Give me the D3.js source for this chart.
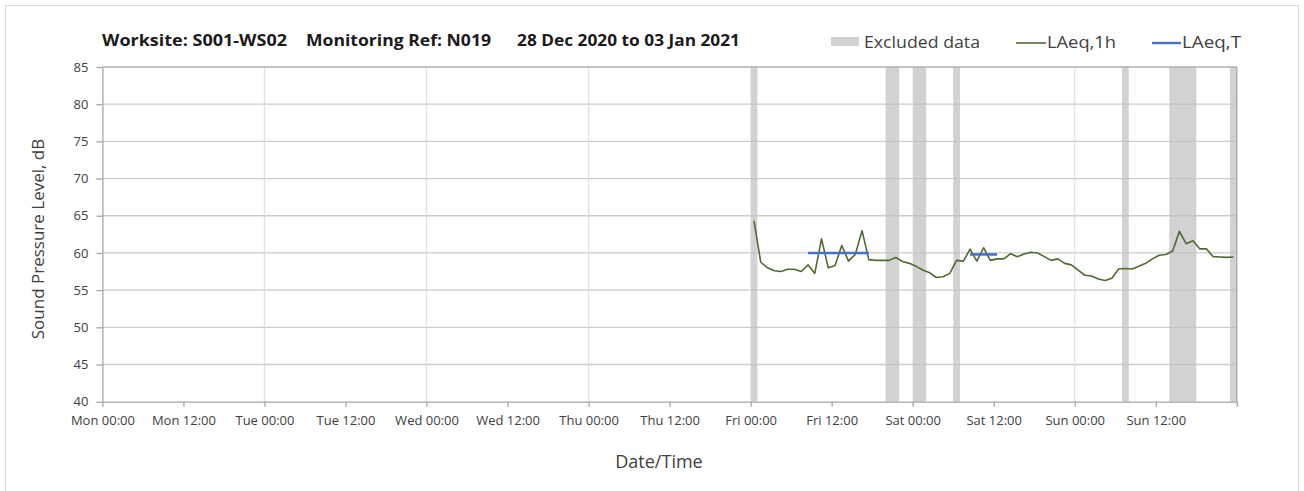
<!DOCTYPE html>
<html>
<head>
<meta charset="utf-8">
<script src="https://cdn.jsdelivr.net/npm/d3@7"></script>
<style>
  html, body { margin: 0; padding: 0; background: #fff; }
  svg { display: block; }
  text { font-family: "Open Sans", "Noto Sans", sans-serif; }
</style>
</head>
<body>
<svg id="chart" width="1304" height="491"></svg>
<script>
// ---------- DATA ----------
const titleParts = ["Worksite: S001-WS02", "Monitoring Ref: N019", "28 Dec 2020 to 03 Jan 2021"];
const xTickLabels = ["Mon 00:00", "Mon 12:00", "Tue 00:00", "Tue 12:00", "Wed 00:00", "Wed 12:00",
  "Thu 00:00", "Thu 12:00", "Fri 00:00", "Fri 12:00", "Sat 00:00", "Sat 12:00", "Sun 00:00", "Sun 12:00", ""];
const xTickHours = [0, 12, 24, 36, 48, 60, 72, 84, 96, 108, 120, 132, 144, 156, 168];
const yTicks = [40, 45, 50, 55, 60, 65, 70, 75, 80, 85];
const dayGridHours = [24, 48, 72, 144];

// Excluded data periods (hours since Mon 00:00)
const excludedStart = [96, 116, 120, 126, 151, 158, 167];
const excludedEnd   = [97, 118, 122, 127, 152, 162, 168];

// LAeq,1h hourly values, first hour starting Fri 00:00 (hour 96)
const laeq1hStartHour = 96;
const laeq1hValues = [
  64.3, 58.75, 58.0, 57.6, 57.5, 57.8, 57.8, 57.5, 58.4, 57.25, 61.9, 58.0,
  58.3, 61.0, 58.9, 59.8, 63.0, 59.1, 59.0, 59.0, 59.0, 59.4, 58.85, 58.6,
  58.2, 57.7, 57.35, 56.7, 56.8, 57.25, 59.0, 58.9, 60.5, 58.9, 60.7, 59.0,
  59.2, 59.2, 59.9, 59.5, 59.85, 60.1, 60.0, 59.5, 59.0, 59.2, 58.6, 58.4,
  57.7, 57.0, 56.9, 56.5, 56.3, 56.6, 57.85, 57.9, 57.85, 58.2, 58.6, 59.2,
  59.7, 59.8, 60.25, 62.9, 61.25, 61.65, 60.55, 60.55, 59.5, 59.45, 59.4, 59.45
];

// LAeq,T periods (start / end hour, value)
const laeqTStart = [104, 128];
const laeqTEnd   = [114, 133];
const laeqTValue = [60.0, 59.8];

// ---------- CHART ----------
const svg = d3.select("#chart");
const plot = { left: 102.4, right: 1236.8, top: 67, bottom: 401.7 };

const x = d3.scaleLinear().domain([0, 168]).range([plot.left, plot.right]);
const y = d3.scaleLinear().domain([40, 85]).range([plot.bottom, plot.top]);

// outer frame
svg.append("rect").attr("x", 5.5).attr("y", 5.5).attr("width", 1293).attr("height", 492)
  .attr("fill", "#fff").attr("stroke", "#d9d9d9").attr("stroke-width", 1);

// horizontal gridlines (behind)
svg.append("g").selectAll("line").data(yTicks.filter(d => d !== 40 && d !== 85)).join("line")
  .attr("x1", plot.left).attr("x2", plot.right)
  .attr("y1", d => y(d)).attr("y2", d => y(d))
  .attr("stroke", "#d9d9d9").attr("stroke-width", 1.3);

// vertical day gridlines
svg.append("g").selectAll("line").data(dayGridHours).join("line")
  .attr("x1", d => x(d)).attr("x2", d => x(d))
  .attr("y1", plot.top).attr("y2", plot.bottom)
  .attr("stroke", "#e3e3e3").attr("stroke-width", 1.3);

// excluded bands
const bands = excludedStart.map((s, i) => ({ s, e: excludedEnd[i] }));
svg.append("g").selectAll("rect").data(bands).join("rect")
  .attr("x", d => x(d.s)).attr("width", d => x(d.e) - x(d.s))
  .attr("y", plot.top).attr("height", plot.bottom - plot.top)
  .attr("fill", "#d2d2d2");

// gridlines overlay inside bands (slightly darker)
svg.append("g").selectAll("line").data(yTicks.filter(d => d !== 40 && d !== 85)).join("line")
  .attr("x1", plot.left).attr("x2", plot.right)
  .attr("y1", d => y(d)).attr("y2", d => y(d))
  .attr("stroke", "rgba(0,0,0,0.06)").attr("stroke-width", 1.3);

// plot border top/right
svg.append("line").attr("x1", plot.left).attr("x2", plot.right).attr("y1", plot.top).attr("y2", plot.top)
  .attr("stroke", "#b0b0b0").attr("stroke-width", 1.3);
svg.append("line").attr("x1", plot.right).attr("x2", plot.right).attr("y1", plot.top).attr("y2", plot.bottom)
  .attr("stroke", "#a6a6a6").attr("stroke-width", 1.3);

// axes
const xAxis = d3.axisBottom(x).tickValues(xTickHours)
  .tickFormat((d, i) => xTickLabels[i]).tickSize(5).tickPadding(9).tickSizeOuter(0);
const gx = svg.append("g").attr("transform", `translate(0,${plot.bottom})`).call(xAxis);
gx.select(".domain").attr("stroke", "#a6a6a6").attr("stroke-width", 1.3);
gx.selectAll(".tick line").attr("stroke", "#a6a6a6").attr("stroke-width", 1.3);
gx.selectAll(".tick text").attr("fill", "#404040").attr("font-size", 13);

const yAxis = d3.axisLeft(y).tickValues(yTicks).tickSize(6).tickPadding(8).tickSizeOuter(0);
const gy = svg.append("g").attr("transform", `translate(${plot.left},0)`).call(yAxis);
gy.select(".domain").attr("stroke", "#a6a6a6").attr("stroke-width", 1.3);
gy.selectAll(".tick line").attr("stroke", "#a6a6a6").attr("stroke-width", 1.3);
gy.selectAll(".tick text").attr("fill", "#404040").attr("font-size", 13);

// LAeq,1h line
const pts = laeq1hValues.map((v, i) => ({ h: laeq1hStartHour + i + 0.5, v }));
svg.append("path").datum(pts)
  .attr("fill", "none").attr("stroke", "#4f6b2f").attr("stroke-width", 1.6)
  .attr("stroke-linejoin", "round")
  .attr("d", d3.line().x(d => x(d.h)).y(d => y(d.v)));

// LAeq,T lines
const tSegs = laeqTStart.map((s, i) => ({ s: s + 0.5, e: laeqTEnd[i] - 0.5, v: laeqTValue[i] }));
svg.append("g").selectAll("line").data(tSegs).join("line")
  .attr("x1", d => x(d.s)).attr("x2", d => x(d.e))
  .attr("y1", d => y(d.v)).attr("y2", d => y(d.v))
  .attr("stroke", "#4472c4").attr("stroke-width", 2.6);

// title
const titleX = [102, 306, 517];
const titleW = [185, 185, 223];
svg.append("g").selectAll("text").data(titleParts).join("text")
  .attr("x", (d, i) => titleX[i]).attr("y", 46)
  .attr("font-size", 16).attr("font-weight", "bold").attr("fill", "#1a1a1a")
  .attr("textLength", (d, i) => titleW[i]).attr("lengthAdjust", "spacingAndGlyphs")
  .text(d => d);

// legend
const lg = svg.append("g");
lg.append("rect").attr("x", 831).attr("y", 37).attr("width", 28).attr("height", 9).attr("fill", "#d2d2d2");
lg.append("text").attr("x", 864).attr("y", 48).attr("font-size", 17).attr("fill", "#404040")
  .attr("textLength", 116).attr("lengthAdjust", "spacingAndGlyphs").text("Excluded data");
lg.append("line").attr("x1", 1016).attr("x2", 1046).attr("y1", 43).attr("y2", 43)
  .attr("stroke", "#4f6b2f").attr("stroke-width", 1.6);
lg.append("text").attr("x", 1047).attr("y", 48).attr("font-size", 17).attr("fill", "#404040")
  .attr("textLength", 69).attr("lengthAdjust", "spacingAndGlyphs").text("LAeq,1h");
lg.append("line").attr("x1", 1152).attr("x2", 1181).attr("y1", 43).attr("y2", 43)
  .attr("stroke", "#4472c4").attr("stroke-width", 2.4);
lg.append("text").attr("x", 1182).attr("y", 48).attr("font-size", 17).attr("fill", "#404040")
  .attr("textLength", 59).attr("lengthAdjust", "spacingAndGlyphs").text("LAeq,T");

// axis titles
svg.append("text").attr("transform", "translate(44,239) rotate(-90)")
  .attr("text-anchor", "middle").attr("font-size", 17).attr("fill", "#404040")
  .text("Sound Pressure Level, dB");
svg.append("text").attr("x", 659).attr("y", 468).attr("text-anchor", "middle")
  .attr("font-size", 18).attr("fill", "#404040").text("Date/Time");
</script>
</body>
</html>
